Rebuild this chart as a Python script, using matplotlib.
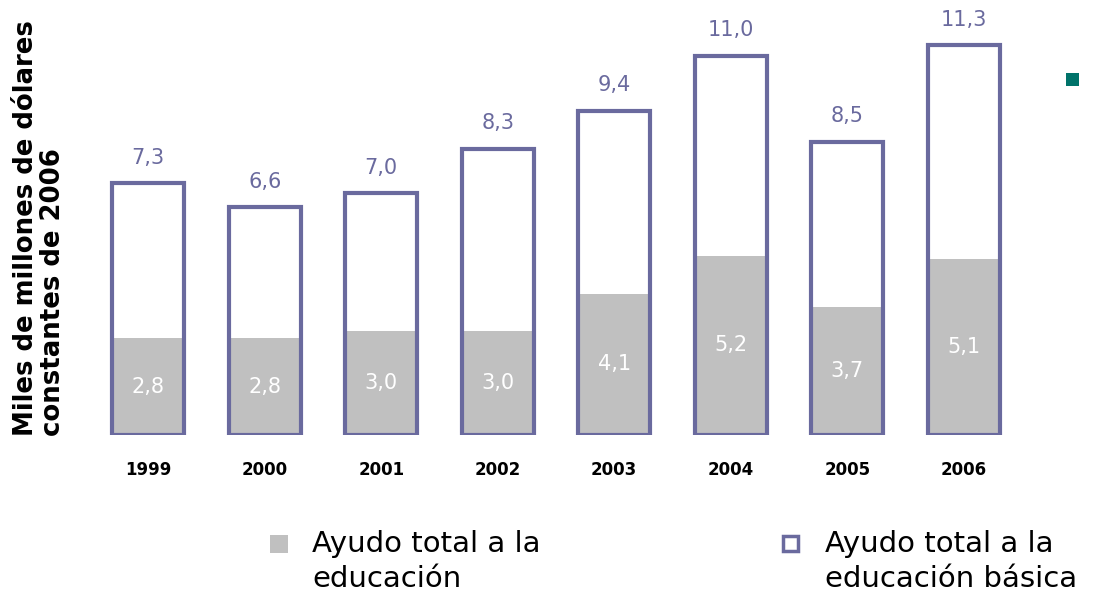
import matplotlib.pyplot as plt
from matplotlib.patches import Rectangle

years = ['1999', '2000', '2001', '2002', '2003', '2004', '2005', '2006']
total_educ = [2.8, 2.8, 3.0, 3.0, 4.1, 5.2, 3.7, 5.1]
basic_educ = [7.3, 6.6, 7.0, 8.3, 9.4, 11.0, 8.5, 11.3]

purple = '#6a6a9e'
grey = '#c0c0c0'
legend_font = ['DejaVu Sans Condensed', 'Liberation Sans Narrow', 'DejaVu Sans']

fig = plt.figure(figsize=(10.97, 5.97), dpi=100)
ax = fig.add_axes([0.082, 0.2714, 0.8496, 0.7119])

x = range(len(years))
w = 0.62
# grey fill first, outline on top
ax.bar(x, total_educ, width=w, color=grey, linewidth=0, zorder=2)
ax.bar(x, basic_educ, width=w, facecolor='none', edgecolor=purple, linewidth=3, zorder=3)

for i in x:
    ax.text(i, basic_educ[i] + 0.45, f'{basic_educ[i]:.1f}'.replace('.', ','),
            ha='center', va='bottom', color=purple, fontsize=15)
    ax.text(i, total_educ[i] / 2, f'{total_educ[i]:.1f}'.replace('.', ','),
            ha='center', va='center', color='white', fontsize=15)

ax.set_xlim(-0.5, len(years) - 0.5)
ax.set_ylim(0, 12.32)
ax.set_xticks(list(x))
ax.set_xticklabels(years, fontsize=12, fontweight='semibold')
ax.tick_params(axis='x', length=0, pad=19)
ax.set_yticks([])
for s in ax.spines.values():
    s.set_visible(False)

fig.text(0.012, 0.27, 'Miles de millones de dólares\nconstantes de 2006', rotation=90,
         ha='left', va='bottom', fontsize=18.7, fontweight='bold', linespacing=1.05)

# legend, drawn by hand
fig.add_artist(Rectangle((270 / 1097, 1 - 553 / 597), 18 / 1097, 18 / 597,
                         transform=fig.transFigure, facecolor=grey, edgecolor='none'))
fig.text(312 / 1097, 1 - 530 / 597, 'Ayudo total a la\neducación', ha='left', va='top',
         fontsize=21, family=legend_font, linespacing=1.3)
fig.add_artist(Rectangle((783 / 1097, 1 - 551 / 597), 15 / 1097, 15 / 597,
                         transform=fig.transFigure, facecolor='white', edgecolor=purple,
                         linewidth=2.5))
fig.text(825 / 1097, 1 - 530 / 597, 'Ayudo total a la\neducación básica', ha='left', va='top',
         fontsize=21, family=legend_font, linespacing=1.3)

fig.add_artist(Rectangle((1066 / 1097, 1 - 86 / 597), 13 / 1097, 13 / 597,
                         transform=fig.transFigure, facecolor='#00736a', edgecolor='none'))

fig.savefig('out.png', dpi=100)
